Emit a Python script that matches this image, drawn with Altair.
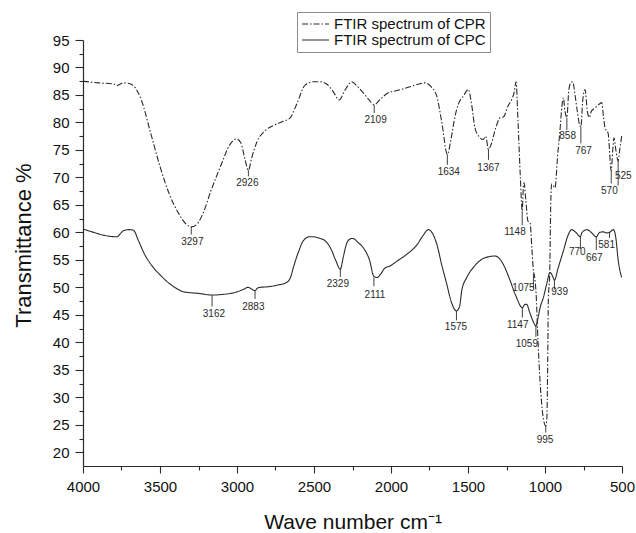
import altair as alt
import pandas as pd

# ---------------- data ----------------
cpr_w = [4000, 3900, 3800, 3781, 3740, 3700, 3669, 3620, 3560, 3500, 3440, 3380, 3330, 3297,
         3260, 3220, 3170, 3100, 3050, 3006, 2975, 2950, 2926, 2905, 2870, 2818, 2760, 2700,
         2656, 2610, 2558, 2504, 2460, 2418, 2380, 2336, 2300, 2266, 2255, 2220, 2180, 2140,
         2109, 2070, 2017, 1960, 1898, 1830, 1779, 1740, 1703, 1670, 1634, 1610, 1585, 1563,
         1530, 1498, 1475, 1455, 1430, 1401, 1385, 1367, 1350, 1320, 1290, 1270, 1240, 1216,
         1200, 1188, 1175, 1160, 1148, 1140, 1136, 1125, 1110, 1097, 1085, 1075, 1068, 1058,
         1045, 1030, 1015, 995, 988, 983, 978, 970, 962, 957, 945, 935, 918, 903, 890, 881,
         870, 858, 845, 830, 820, 805, 790, 775, 767, 755, 740, 725, 712, 700, 686, 660, 632,
         620, 610, 590, 570, 560, 552, 540, 525, 515, 502]
cpr_t = [87.5, 87.2, 87.0, 86.7, 87.2, 87.1, 86.6, 84.0, 78.0, 72.0, 67.0, 63.5, 61.5, 61.0,
         61.5, 63.5, 67.5, 72.5, 75.8, 77.0, 76.3, 73.5, 71.3, 73.5, 76.5, 78.5, 79.5, 80.2,
         80.8, 83.5, 86.8, 87.4, 87.4, 87.0, 85.8, 84.1, 85.8, 87.2, 87.4, 86.6, 85.4, 84.0,
         83.2, 84.2, 85.4, 85.8, 86.3, 86.9, 87.2, 86.5, 84.8, 80.0, 74.2, 77.0, 81.0, 83.3,
         84.8, 86.0, 83.0, 79.0, 77.5, 76.9, 77.5, 75.1, 76.0, 79.0, 80.9, 81.0, 83.0, 84.2,
         85.5, 87.4, 80.0, 70.0, 63.9, 68.5, 69.0, 66.0, 62.0, 61.8, 57.0, 53.0, 52.0, 49.0,
         40.0, 32.0, 27.0, 24.8, 26.0, 35.0, 48.0, 52.0, 66.0, 68.8, 68.5, 68.1, 74.0, 78.5,
         83.0, 84.5, 82.0, 80.9, 86.0, 87.3, 87.4, 85.0, 82.0, 79.5, 79.2, 84.0, 86.0, 82.0,
         80.9, 82.0, 82.4, 83.0, 83.6, 81.0, 79.0, 78.0, 71.2, 75.0, 77.2, 75.0, 73.0, 75.0,
         77.5]

cpc_w = [4000, 3930, 3868, 3781, 3750, 3738, 3700, 3673, 3640, 3600, 3543, 3490, 3435, 3380,
         3349, 3250, 3162, 3100, 3024, 2960, 2927, 2900, 2883, 2870, 2851, 2800, 2740, 2677,
         2650, 2634, 2600, 2569, 2530, 2504, 2460, 2429, 2390, 2360, 2329, 2310, 2290, 2266,
         2249, 2215, 2180, 2140, 2111, 2090, 2070, 2040, 2006, 1960, 1898, 1830, 1790, 1758,
         1730, 1703, 1670, 1638, 1610, 1575, 1555, 1540, 1508, 1460, 1411, 1360, 1325, 1295,
         1271, 1230, 1190, 1147, 1130, 1119, 1100, 1080, 1059, 1045, 1030, 1011, 990, 967,
         950, 939, 915, 881, 850, 827, 800, 770, 760, 727, 700, 667, 645, 621, 600, 581, 556,
         540, 525, 502]
cpc_t = [60.6, 60.0, 59.5, 59.2, 60.0, 60.3, 60.5, 60.4, 58.5, 56.0, 53.6, 52.0, 50.6, 49.6,
         49.2, 48.9, 48.6, 48.7, 49.0, 49.6, 50.0, 49.6, 49.4, 49.8, 50.0, 50.1, 50.4, 50.9,
         52.0, 53.6, 56.5, 58.5, 59.2, 59.2, 58.9, 58.5, 57.0, 55.0, 53.3, 55.5, 57.8, 58.8,
         58.9, 58.2, 57.2, 55.0, 52.0, 51.8, 52.3, 53.5, 53.9, 54.8, 56.0, 57.8, 59.5, 60.5,
         59.8, 57.9, 54.0, 50.6, 47.5, 45.7, 46.5, 49.5, 51.8, 53.8, 55.1, 55.6, 55.7, 55.2,
         54.2, 51.5, 48.5, 46.3, 46.9, 46.9, 45.5, 44.0, 43.0, 44.5, 46.5, 48.1, 50.5, 52.7,
         52.0, 51.3, 53.5, 56.6, 59.5, 60.5, 60.0, 59.2, 60.0, 60.5, 60.0, 59.2, 60.0, 60.1,
         59.9, 60.0, 60.5, 59.0, 55.0, 51.8]

series_names = ["FTIR spectrum of CPR", "FTIR spectrum of CPC"]

# peak annotations: text, tick wavenumber, tick top, tick bottom, label wavenumber, label level
peak_text = ["3297", "2926", "2109", "1634", "1367", "1148", "1075", "995", "858", "767",
             "570", "525",
             "3162", "2883", "2329", "2111", "1575", "1147", "1059", "939", "770", "667", "581"]
peak_w = [3297, 2926, 2109, 1634, 1367, 1148, 1075, 995, 858, 767, 570, 525,
          3162, 2883, 2329, 2111, 1575, 1147, 1059, 939, 770, 667, 581]
tick_hi = [61.0, 71.3, 83.2, 74.2, 75.1, 63.9, 52.5, 24.8, 80.9, 79.2, 71.2, 73.0,
           48.6, 49.4, 53.3, 51.8, 45.7, 46.3, 43.0, 51.3, 59.2, 59.2, 60.0]
tick_lo = [59.6, 70.2, 81.7, 72.3, 73.2, 61.3, 49.8, 23.6, 78.6, 76.2, 68.9, 68.5,
           46.5, 47.9, 51.9, 50.2, 44.0, 44.5, 41.0, 49.6, 57.0, 56.8, 59.0]
label_w = [3290, 2933, 2100, 1625, 1367, 1195, 1140, 1000, 853, 750, 582, 492,
           3150, 2894, 2345, 2104, 1578, 1177, 1118, 905, 790, 680, 600]
label_t = [58.3, 68.9, 80.4, 70.9, 71.8, 60.1, 49.9, 22.3, 77.5, 74.8, 67.5, 70.3,
           45.1, 46.5, 50.6, 48.6, 42.8, 43.2, 39.7, 49.1, 56.5, 55.4, 57.7]

x_ticks = [500, 750, 1000, 1250, 1500, 1750, 2000, 2250, 2500, 2750, 3000, 3250, 3500, 3750, 4000]
y_ticks = [20, 22.5, 25, 27.5, 30, 32.5, 35, 37.5, 40, 42.5, 45, 47.5, 50, 52.5, 55, 57.5,
           60, 62.5, 65, 67.5, 70, 72.5, 75, 77.5, 80, 82.5, 85, 87.5, 90, 92.5, 95]

# ---------------- tables ----------------
spec = pd.concat([
    pd.DataFrame({"w": cpr_w, "t": cpr_t, "s": series_names[0]}),
    pd.DataFrame({"w": cpc_w, "t": cpc_t, "s": series_names[1]}),
])
ann = pd.DataFrame({"txt": peak_text, "pw": peak_w, "hi": tick_hi, "lo": tick_lo,
                    "lw": label_w, "lt": label_t})

FONT = "Liberation Sans"
INK = "#2a2a2a"

xscale = alt.Scale(domain=[4000, 500], nice=False, zero=False)
yscale = alt.Scale(domain=[17.5, 95], nice=False, zero=False)

x_axis = alt.Axis(
    values=x_ticks, title="Wave number cm⁻¹",
    labelExpr="datum.value % 500 === 0 ? datum.label : ''",
    labelOverlap=False, grid=False,
    tickSize={"condition": {"test": "datum.value % 500 !== 0", "value": 4}, "value": 7},
    labelFontSize=15, labelPadding=6, titleFontSize=21, titleFontWeight="normal",
    titleBaseline="alphabetic", titleY=62, labelFlush=False, format="d",
)
y_axis = alt.Axis(
    values=y_ticks, title="Transmittance %",
    labelExpr="datum.value % 5 === 0 ? datum.label : ''",
    labelOverlap=False, grid=False,
    tickSize={"condition": {"test": "datum.value % 5 !== 0", "value": 4}, "value": 8},
    labelFontSize=15, labelPadding=6, titleFontSize=22, titleFontWeight="normal",
    titleBaseline="middle", titleX=-60, titleY=205, labelFlush=False, format="d",
)

lines = alt.Chart(spec).mark_line(color=INK, strokeWidth=1.1, interpolate="monotone").encode(
    x=alt.X("w:Q", scale=xscale, axis=x_axis),
    y=alt.Y("t:Q", scale=yscale, axis=y_axis),
    strokeDash=alt.StrokeDash(
        "s:N",
        scale=alt.Scale(domain=series_names, range=[[6, 2, 1.5, 2], [1, 0]]),
        legend=alt.Legend(
            title=None, orient="none", legendX=214, legendY=-28, direction="vertical",
            strokeColor="#8a8a8a", fillColor="white", padding=4, cornerRadius=0,
            labelFontSize=15, labelFont=FONT, labelColor="#111", labelOffset=4,
            symbolType="stroke", symbolSize=729, symbolStrokeWidth=1.1,
            symbolStrokeColor=INK, rowPadding=0, clipHeight=16,
        ),
    ),
    order=alt.Order("w:Q"),
)

ticks = alt.Chart(ann).mark_rule(color=INK, strokeWidth=0.9).encode(
    x=alt.X("pw:Q", scale=xscale, axis=x_axis),
    y=alt.Y("hi:Q", scale=yscale, axis=y_axis),
    y2="lo:Q",
)
labels = alt.Chart(ann).mark_text(fontSize=10, font=FONT, color=INK, baseline="middle").encode(
    x=alt.X("lw:Q", scale=xscale, axis=x_axis),
    y=alt.Y("lt:Q", scale=yscale, axis=y_axis),
    text="txt:N",
)

chart = alt.layer(lines, ticks, labels).properties(
    width=539, height=426,
    autosize=alt.AutoSizeParams(type="none"),
    padding={"left": 83, "top": 40, "right": 14, "bottom": 67},
    background="white",
).configure(font=FONT).configure_view(stroke=None).configure_axis(
    domainColor=INK, tickColor=INK, labelColor="#111", titleColor="#111",
    labelFont=FONT, titleFont=FONT, domainWidth=1.2, tickWidth=1.1,
)

chart.save("out.html", embed_options={"renderer": "svg", "actions": False})
